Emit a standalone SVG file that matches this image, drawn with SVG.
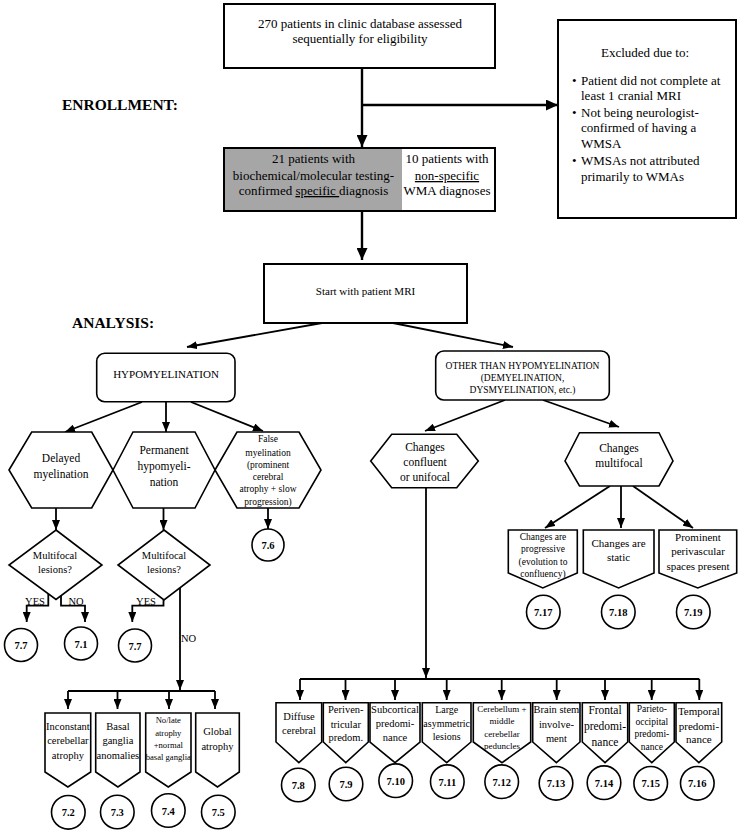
<svg xmlns="http://www.w3.org/2000/svg" width="742" height="833" viewBox="0 0 742 833">
<style>
text{font-family:"Liberation Serif","Times New Roman",serif;fill:#000;text-anchor:middle}
.box{fill:#fff;stroke:#000;stroke-width:2}
.shp{fill:#fff;stroke:#000;stroke-width:1.6}
.cir{fill:#fff;stroke:#000;stroke-width:1.6}
.num{font-weight:bold;font-size:10.5px}
.con{fill:none;stroke:#000;stroke-width:1.8}
.conB{fill:none;stroke:#000;stroke-width:2.4}
.lbl{font-weight:bold;font-size:15.5px;text-anchor:start}
.t13{font-size:13px}
.t11{font-size:11px}
.t105{font-size:10.5px}
</style>
<defs>
<marker id="ah" markerUnits="userSpaceOnUse" markerWidth="10" markerHeight="8" refX="10" refY="4" orient="auto"><path d="M0,0 L10,4 L0,8 Z" fill="#000"/></marker>
<marker id="ahB" markerUnits="userSpaceOnUse" markerWidth="12" markerHeight="11" refX="12" refY="5.5" orient="auto"><path d="M0,0 L12,5.5 L0,11 Z" fill="#000"/></marker>
</defs>

<text class="lbl" x="62" y="110">ENROLLMENT:</text>
<text class="lbl" x="72" y="328">ANALYSIS:</text>

<g id="connectors">
<path class="conB" d="M362,68 V147" marker-end="url(#ahB)"/>
<path class="conB" d="M362,105 H558" marker-end="url(#ahB)"/>
<path class="conB" d="M362,211 V260" marker-end="url(#ahB)"/>
<path class="con" d="M322,323 L187,347" marker-end="url(#ah)"/>
<path class="con" d="M393,323 L513,347" marker-end="url(#ah)"/>
<path class="con" d="M142,402 L65,432" marker-end="url(#ah)"/>
<path class="con" d="M166,402 V432" marker-end="url(#ah)"/>
<path class="con" d="M191,402 L263,431" marker-end="url(#ah)"/>
<path class="con" d="M505,400 L425,431" marker-end="url(#ah)"/>
<path class="con" d="M543,400 L619,427" marker-end="url(#ah)"/>
<path class="con" d="M56,508 V530" marker-end="url(#ah)"/>
<path class="con" d="M163.5,508 V530" marker-end="url(#ah)"/>
<path class="con" d="M268,508 V529" marker-end="url(#ah)"/>
<path class="con" d="M48.3,594 V605.7 H26.7 V622" marker-end="url(#ah)"/>
<path class="con" d="M61,595 V605.7 H85 V622" marker-end="url(#ah)"/>
<path class="con" d="M163.5,600 V605.7 H132.3 V622" marker-end="url(#ah)"/>
<path class="con" d="M180,588 V690" marker-end="url(#ah)"/>
<path class="con" d="M68,691 H215"/>
<path class="con" d="M68,691 V709" marker-end="url(#ah)"/>
<path class="con" d="M117.5,691 V709" marker-end="url(#ah)"/>
<path class="con" d="M169,691 V709" marker-end="url(#ah)"/>
<path class="con" d="M215,691 V709" marker-end="url(#ah)"/>
<path class="con" d="M426,488 V678" marker-end="url(#ah)"/>
<path class="con" d="M300,679 H699.3"/>
<path class="con" d="M300,679 V700" marker-end="url(#ah)"/>
<path class="con" d="M345.5,679 V700" marker-end="url(#ah)"/>
<path class="con" d="M395,679 V700" marker-end="url(#ah)"/>
<path class="con" d="M446.7,679 V700" marker-end="url(#ah)"/>
<path class="con" d="M501.7,679 V700" marker-end="url(#ah)"/>
<path class="con" d="M556.7,679 V700" marker-end="url(#ah)"/>
<path class="con" d="M605,679 V700" marker-end="url(#ah)"/>
<path class="con" d="M651.7,679 V700" marker-end="url(#ah)"/>
<path class="con" d="M699.3,679 V700" marker-end="url(#ah)"/>
<path class="con" d="M610,486 L545,528" marker-end="url(#ah)"/>
<path class="con" d="M621,486 V528" marker-end="url(#ah)"/>
<path class="con" d="M633,486 L693,528" marker-end="url(#ah)"/>
<text class="t105" x="35" y="604.5">YES</text>
<text class="t105" x="76" y="604.5">NO</text>
<text class="t105" x="146" y="604.5">YES</text>
<text class="t105" x="181" y="642" style="text-anchor:start">NO</text>
</g>

<g id="n-start-pool">
<rect class="box" x="224" y="4" width="271" height="64"/>
<text class="t13" x="360" y="28">270 patients in clinic database assessed</text>
<text class="t13" x="360" y="43">sequentially for eligibility</text>
</g>

<g id="n-excluded">
<rect class="box" x="558" y="20" width="178" height="198"/>
<text class="t13" x="645" y="57">Excluded due to:</text>
<g class="t13" style="text-anchor:start">
<text x="572" y="85" style="text-anchor:start">•</text>
<text x="581" y="85" style="text-anchor:start">Patient did not complete at</text>
<text x="581" y="100" style="text-anchor:start">least 1 cranial MRI</text>
<text x="572" y="117" style="text-anchor:start">•</text>
<text x="581" y="117" style="text-anchor:start">Not being neurologist-</text>
<text x="581" y="132" style="text-anchor:start">confirmed of having a</text>
<text x="581" y="148" style="text-anchor:start">WMSA</text>
<text x="572" y="165" style="text-anchor:start">•</text>
<text x="581" y="165" style="text-anchor:start">WMSAs not attributed</text>
<text x="581" y="181" style="text-anchor:start">primarily to WMAs</text>
</g>
</g>

<g id="n-diagnosis">
<rect x="224" y="148" width="178" height="63" fill="#a6a6a6"/>
<rect x="224" y="148" width="271" height="63" fill="none" stroke="#000" stroke-width="2"/>
<text class="t13" x="313.5" y="162.5">21 patients with</text>
<text class="t13" x="313.5" y="180">biochemical/molecular testing-</text>
<text class="t13" x="313.5" y="195">confirmed <tspan text-decoration="underline">specific </tspan>diagnosis</text>
<text class="t13" x="447" y="162.5">10 patients with</text>
<text class="t13" x="447" y="180" text-decoration="underline">non-specific</text>
<text class="t13" x="447" y="195">WMA diagnoses</text>
</g>

<g id="n-mri">
<rect class="box" x="264" y="264" width="203" height="59"/>
<text class="t11" x="365.5" y="295">Start with patient MRI</text>
</g>

<g id="n-hypo">
<rect class="shp" x="96.7" y="353.3" width="138.3" height="48.4" rx="8"/>
<text class="t11" x="166" y="378">HYPOMYELINATION</text>
</g>

<g id="n-other">
<rect class="shp" x="435.7" y="351" width="173.6" height="49" rx="8"/>
<text x="522.5" y="368.5" style="font-size:9.5px">OTHER THAN HYPOMYELINATION</text>
<text x="522.5" y="380.5" style="font-size:9.5px">(DEMYELINATION,</text>
<text x="522.5" y="393" style="font-size:9.5px">DYSMYELINATION, etc.)</text>
</g>

<g id="n-delayed">
<path class="shp" d="M9,470 L31.7,432 L91.7,432 L113,470 L91.7,508 L31.7,508 Z"/>
<text x="61" y="461.5" style="font-size:11.5px">Delayed</text>
<text x="61" y="478" style="font-size:11.5px">myelination</text>
</g>

<g id="n-permanent">
<path class="shp" d="M113,470 L133,432 L195,432 L215,470 L195,508 L133,508 Z"/>
<text x="164" y="454" style="font-size:11.5px">Permanent</text>
<text x="164" y="469.5" style="font-size:11.5px">hypomyeli-</text>
<text x="164" y="485.5" style="font-size:11.5px">nation</text>
</g>

<g id="n-false">
<path class="shp" d="M215,470 L237,432 L299,432 L321,470 L299,508 L237,508 Z"/>
<text x="268" y="441.5" style="font-size:9.5px">False</text>
<text x="268" y="455.5" style="font-size:9.5px">myelination</text>
<text x="268" y="467.5" style="font-size:9.5px">(prominent</text>
<text x="268" y="480" style="font-size:9.5px">cerebral</text>
<text x="268" y="492" style="font-size:9.5px">atrophy + slow</text>
<text x="268" y="505" style="font-size:9.5px">progression)</text>
</g>

<g id="n-dia1">
<path class="shp" d="M56,530 L102,565 L56,599.5 L9,565 Z"/>
<text class="t105" x="55" y="558.5">Multifocal</text>
<text class="t105" x="55" y="572.5">lesions?</text>
</g>

<g id="n-dia2">
<path class="shp" d="M164,530 L210,565 L164,600 L118,565 Z"/>
<text class="t105" x="164" y="558.5">Multifocal</text>
<text class="t105" x="164" y="572.5">lesions?</text>
</g>

<g id="n-c76"><circle class="cir" cx="268" cy="545" r="16"/><text class="num" x="268" y="549">7.6</text></g>
<g id="n-c77a"><circle class="cir" cx="21" cy="645" r="16.5"/><text class="num" x="21" y="649">7.7</text></g>
<g id="n-c71"><circle class="cir" cx="81" cy="643.5" r="16.5"/><text class="num" x="81" y="647.5">7.1</text></g>
<g id="n-c77b"><circle class="cir" cx="135" cy="645.5" r="16.5"/><text class="num" x="135" y="649.5">7.7</text></g>

<g id="n-p72">
<path class="shp" d="M45,713 H90.7 V772 L67.9,787 L45,772 Z"/>
<text class="t105" x="67.9" y="729.5">Inconstant</text>
<text class="t105" x="67.9" y="744">cerebellar</text>
<text class="t105" x="67.9" y="758.5">atrophy</text>
</g>
<g id="n-p73">
<path class="shp" d="M95.7,713 H140 V772 L117.9,787 L95.7,772 Z"/>
<text class="t105" x="117.9" y="729.5">Basal</text>
<text class="t105" x="117.9" y="744">ganglia</text>
<text class="t105" x="117.9" y="758.5">anomalies</text>
</g>
<g id="n-p74">
<path class="shp" d="M145.7,713 H191 V772 L168.3,787 L145.7,772 Z"/>
<text x="168.3" y="723" style="font-size:8.6px">No/late</text>
<text x="168.3" y="736.3" style="font-size:8.6px">atrophy</text>
<text x="168.3" y="748" style="font-size:8.6px">+normal</text>
<text x="168.3" y="759.7" style="font-size:8.6px">basal ganglia</text>
</g>
<g id="n-p75">
<path class="shp" d="M195.7,713 H239.3 V772 L217.5,787 L195.7,772 Z"/>
<text class="t105" x="217.5" y="735.2">Global</text>
<text class="t105" x="217.5" y="750.2">atrophy</text>
</g>

<g id="n-c72"><circle class="cir" cx="68.3" cy="812.3" r="16.8"/><text class="num" x="68.3" y="816.3">7.2</text></g>
<g id="n-c73"><circle class="cir" cx="117.3" cy="812" r="16.8"/><text class="num" x="117.3" y="816">7.3</text></g>
<g id="n-c74"><circle class="cir" cx="168.3" cy="810.5" r="16.8"/><text class="num" x="168.3" y="814.5">7.4</text></g>
<g id="n-c75"><circle class="cir" cx="218.3" cy="812" r="16.8"/><text class="num" x="218.3" y="816">7.5</text></g>

<g id="n-confluent">
<path class="shp" d="M370.7,461 L391.7,434.3 L456.7,434.3 L478.3,461 L456.7,487.7 L391.7,487.7 Z"/>
<text x="425" y="450.5" style="font-size:11.5px">Changes</text>
<text x="425" y="466" style="font-size:11.5px">confluent</text>
<text x="425" y="481" style="font-size:11.5px">or unifocal</text>
</g>

<g id="n-multifocal">
<path class="shp" d="M565,461 L579.5,432.7 L659,432.7 L673,461 L659,486 L579.5,486 Z"/>
<text x="619" y="452" style="font-size:11.5px">Changes</text>
<text x="619" y="467" style="font-size:11.5px">multifocal</text>
</g>

<g id="n-p717">
<path class="shp" d="M508.3,530 H577.3 V573 L542.8,588 L508.3,573 Z"/>
<text x="543" y="539.5" style="font-size:9.5px">Changes are</text>
<text x="543" y="552" style="font-size:9.5px">progressive</text>
<text x="543" y="564.5" style="font-size:9.5px">(evolution to</text>
<text x="543" y="576.5" style="font-size:9.5px">confluency)</text>
</g>
<g id="n-p718">
<path class="shp" d="M583.3,530 H654 V573 L618.6,588 L583.3,573 Z"/>
<text class="t11" x="618.5" y="547">Changes are</text>
<text class="t11" x="618.5" y="560.5">static</text>
</g>
<g id="n-p719">
<path class="shp" d="M659,530 H736.7 V573 L697.8,588 L659,573 Z"/>
<text class="t11" x="698" y="540.5">Prominent</text>
<text class="t11" x="698" y="555">perivascular</text>
<text class="t11" x="698" y="569.5">spaces present</text>
</g>

<g id="n-c717"><circle class="cir" cx="543.3" cy="612" r="16.8"/><text class="num" x="543.3" y="616">7.17</text></g>
<g id="n-c718"><circle class="cir" cx="618.3" cy="612" r="16.8"/><text class="num" x="618.3" y="616">7.18</text></g>
<g id="n-c719"><circle class="cir" cx="693.3" cy="612" r="16.8"/><text class="num" x="693.3" y="616">7.19</text></g>

<g id="n-p78">
<path class="shp" d="M276,702.7 H321.7 V742 L298.9,762.7 L276,742 Z"/>
<text class="t105" x="299" y="720.3">Diffuse</text>
<text class="t105" x="299" y="733.7">cerebral</text>
</g>
<g id="n-p79">
<path class="shp" d="M323.3,702.7 H368.3 V742 L345.8,762.7 L323.3,742 Z"/>
<text class="t105" x="345.8" y="713">Periven-</text>
<text class="t105" x="345.8" y="727.5">tricular</text>
<text class="t105" x="345.8" y="741">predom.</text>
</g>
<g id="n-p710">
<path class="shp" d="M370,702.7 H420 V742 L395,762.7 L370,742 Z"/>
<text class="t105" x="395" y="713">Subcortical</text>
<text class="t105" x="395" y="727">predomi-</text>
<text class="t105" x="395" y="741">nance</text>
</g>
<g id="n-p711">
<path class="shp" d="M422.3,702.7 H471 V742 L446.7,762.7 L422.3,742 Z"/>
<text x="446.7" y="712.8" style="font-size:10px">Large</text>
<text x="446.7" y="726.8" style="font-size:10px">asymmetric</text>
<text x="446.7" y="739.5" style="font-size:10px">lesions</text>
</g>
<g id="n-p712">
<path class="shp" d="M473.3,702.7 H530.7 V742 L502,762.7 L473.3,742 Z"/>
<text x="502" y="711.5" style="font-size:9px">Cerebellum +</text>
<text x="502" y="724" style="font-size:9px">middle</text>
<text x="502" y="736.5" style="font-size:9px">cerebellar</text>
<text x="502" y="749" style="font-size:9px">peduncles</text>
</g>
<g id="n-p713">
<path class="shp" d="M532.7,702.7 H580 V742 L556.4,762.7 L532.7,742 Z"/>
<text class="t105" x="556.4" y="713">Brain stem</text>
<text class="t105" x="556.4" y="727.5">involve-</text>
<text class="t105" x="556.4" y="742">ment</text>
</g>
<g id="n-p714">
<path class="shp" d="M582.3,702.7 H627.7 V742 L605,762.7 L582.3,742 Z"/>
<text x="605" y="714" style="font-size:11.5px">Frontal</text>
<text x="605" y="729.5" style="font-size:11.5px">predomi-</text>
<text x="605" y="745.5" style="font-size:11.5px">nance</text>
</g>
<g id="n-p715">
<path class="shp" d="M629.3,702.7 H674.3 V742 L651.8,762.7 L629.3,742 Z"/>
<text x="651.8" y="711.5" style="font-size:9.5px">Parieto-</text>
<text x="651.8" y="725" style="font-size:9.5px">occipital</text>
<text x="651.8" y="737.3" style="font-size:9.5px">predomi-</text>
<text x="651.8" y="750" style="font-size:9.5px">nance</text>
</g>
<g id="n-p716">
<path class="shp" d="M676,702.7 H721.7 V742 L698.9,762.7 L676,742 Z"/>
<text class="t11" x="698.9" y="714.8">Temporal</text>
<text class="t11" x="698.9" y="729.5">predomi-</text>
<text class="t11" x="698.9" y="743">nance</text>
</g>

<g id="n-c78"><circle class="cir" cx="298.3" cy="785" r="16.8"/><text class="num" x="298.3" y="789">7.8</text></g>
<g id="n-c79"><circle class="cir" cx="346" cy="784" r="16.8"/><text class="num" x="346" y="788">7.9</text></g>
<g id="n-c710"><circle class="cir" cx="395.7" cy="780.7" r="16.8"/><text class="num" x="395.7" y="784.7">7.10</text></g>
<g id="n-c711"><circle class="cir" cx="447.3" cy="781.7" r="16.8"/><text class="num" x="447.3" y="785.7">7.11</text></g>
<g id="n-c712"><circle class="cir" cx="501.7" cy="781.7" r="16.8"/><text class="num" x="501.7" y="785.7">7.12</text></g>
<g id="n-c713"><circle class="cir" cx="556" cy="783.3" r="16.8"/><text class="num" x="556" y="787.3">7.13</text></g>
<g id="n-c714"><circle class="cir" cx="604" cy="782.7" r="16.8"/><text class="num" x="604" y="786.7">7.14</text></g>
<g id="n-c715"><circle class="cir" cx="650.7" cy="783.3" r="16.8"/><text class="num" x="650.7" y="787.3">7.15</text></g>
<g id="n-c716"><circle class="cir" cx="697.3" cy="783.3" r="16.8"/><text class="num" x="697.3" y="787.3">7.16</text></g>
</svg>
